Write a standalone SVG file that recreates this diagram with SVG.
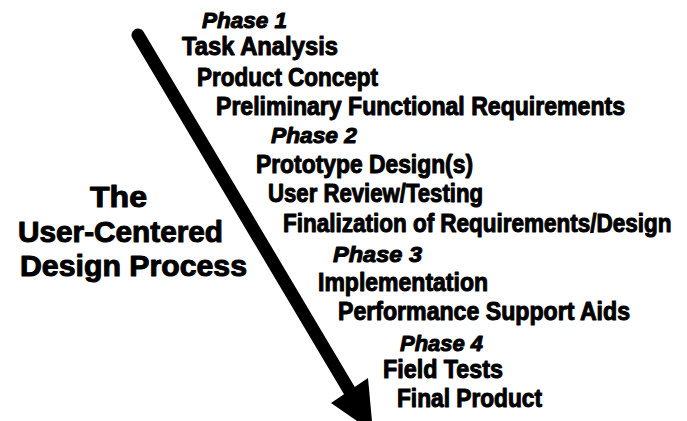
<svg xmlns="http://www.w3.org/2000/svg" width="687" height="421" viewBox="0 0 687 421">
<style>
text{font-family:"Liberation Sans",Arial,sans-serif;font-weight:bold;fill:#000;stroke:#000;stroke-width:1;stroke-linejoin:round}
.item{font-size:25px}
.phase{font-size:22px;font-style:italic}
.title{font-size:29px}
.shaft{stroke:#000;stroke-width:13;stroke-linecap:round;fill:none}
</style>
<rect width="687" height="421" fill="#fff"/>
<g id="connectors">
<line class="shaft" x1="138" y1="35" x2="352" y2="395"/>
<polygon points="331,403 368,378 373,432" fill="#000"/>
</g>
<g id="title">
<text class="title" x="90" y="207" textLength="57" lengthAdjust="spacingAndGlyphs">The</text>
<text class="title" x="18" y="242" textLength="205" lengthAdjust="spacingAndGlyphs">User-Centered</text>
<text class="title" x="20" y="276" textLength="227" lengthAdjust="spacingAndGlyphs">Design Process</text>
</g>
<g id="phase1">
<text class="phase" x="202" y="28" textLength="85" lengthAdjust="spacingAndGlyphs">Phase 1</text>
<text class="item" x="182" y="55" textLength="156" lengthAdjust="spacingAndGlyphs">Task Analysis</text>
<text class="item" x="197" y="86" textLength="181" lengthAdjust="spacingAndGlyphs">Product Concept</text>
<text class="item" x="216" y="115" textLength="409" lengthAdjust="spacingAndGlyphs">Preliminary Functional Requirements</text>
</g>
<g id="phase2">
<text class="phase" x="271" y="143" textLength="86" lengthAdjust="spacingAndGlyphs">Phase 2</text>
<text class="item" x="256" y="173" textLength="217" lengthAdjust="spacingAndGlyphs">Prototype Design(s)</text>
<text class="item" x="268" y="202" textLength="215" lengthAdjust="spacingAndGlyphs">User Review/Testing</text>
<text class="item" transform="translate(283,232) scale(0.9,1)">Finalization of Requirements/Design</text>
</g>
<g id="phase3">
<text class="phase" x="333" y="262" textLength="89" lengthAdjust="spacingAndGlyphs">Phase 3</text>
<text class="item" x="318" y="291" textLength="170" lengthAdjust="spacingAndGlyphs">Implementation</text>
<text class="item" x="338" y="320" textLength="292" lengthAdjust="spacingAndGlyphs">Performance Support Aids</text>
</g>
<g id="phase4">
<text class="phase" x="400" y="351" textLength="83" lengthAdjust="spacingAndGlyphs">Phase 4</text>
<text class="item" x="383" y="378" textLength="120" lengthAdjust="spacingAndGlyphs">Field Tests</text>
<text class="item" x="397" y="407" textLength="145" lengthAdjust="spacingAndGlyphs">Final Product</text>
</g>
</svg>
